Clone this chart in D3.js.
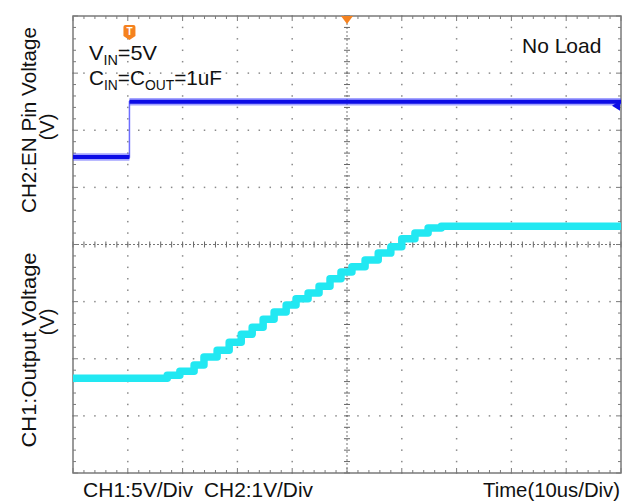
<!DOCTYPE html>
<html>
<head>
<meta charset="utf-8">
<script src="https://cdn.jsdelivr.net/npm/d3@7/dist/d3.min.js"></script>
<style>
  body { margin: 0; background: #fff; }
  text { font-family: "Liberation Sans", Arial, sans-serif; fill: #111; }
</style>
</head>
<body>
<div id="scope"></div>
<script>
// scope screenshot - EN step + soft start of output

// time axis in us (10us/Div), level axis in screen divisions (-4..4)
var ch2Time  = [0, 10.3, 10.3, 100];
var ch2Level = [1.53, 1.53, 2.50, 2.50];

var ch1Time  = [0, 17.2, 19.5, 22.1, 23.9, 26.3, 28.5, 30.7, 32.7, 34.7, 36.7, 38.9, 40.7,
                42.9, 44.9, 46.9, 48.9, 50.9, 53.3, 55.7, 58.0, 60.0, 62.4, 64.8, 67.2, 100];
var ch1Level = [-2.34, -2.29, -2.22, -2.11, -1.97, -1.85, -1.71, -1.57, -1.45, -1.31, -1.18, -1.06, -0.95,
                -0.85, -0.73, -0.60, -0.48, -0.39, -0.27, -0.15, -0.04, 0.10, 0.20, 0.29, 0.32, 0.32];

var triggerTime = 10.3;

var yLabels = ['CH2:EN Pin Voltage', 'CH1:Output Voltage'];
var bottomLabels = ['CH1:5V/Div', 'CH2:1V/Div', 'Time(10us/Div)'];

var width = 629, height = 504;

var svg = d3.select('#scope')
.append('svg')
.attr('width', width)
.attr('height', height)
.style('background-color', '#fff');

var x = d3.scaleLinear().domain([0, 100]).range([73, 621]);
var y = d3.scaleLinear().domain([-4, 4]).range([473, 16]);

var minorT = d3.range(0, 100.01, 2);
var minorV = d3.range(-4, 4.01, 0.2);

// grid dots
var grid = svg.append('g').attr('class', 'grid');

d3.range(10, 100, 10).filter(function(d){ return d !== 50; }).forEach(function(t){
    grid.selectAll(null)
    .data(minorV)
    .enter()
    .append('rect')
    .attr('x', x(t) - 0.75)
    .attr('y', function(d){ return y(d) - 0.75; })
    .attr('width', 1.5)
    .attr('height', 1.5)
    .attr('fill', '#8a8a8a');
});

d3.range(-3, 4, 1).filter(function(d){ return d !== 0; }).forEach(function(v){
    grid.selectAll(null)
    .data(minorT)
    .enter()
    .append('rect')
    .attr('x', function(d){ return x(d) - 0.75; })
    .attr('y', y(v) - 0.75)
    .attr('width', 1.5)
    .attr('height', 1.5)
    .attr('fill', '#8a8a8a');
});

// center cross with ticks
grid.append('line')
.attr('x1', x(0)).attr('x2', x(100))
.attr('y1', y(0)).attr('y2', y(0))
.attr('stroke', '#777')
.attr('stroke-width', 1)
.attr('stroke-dasharray', '2,2');

grid.append('line')
.attr('x1', x(50)).attr('x2', x(50))
.attr('y1', y(-4)).attr('y2', y(4))
.attr('stroke', '#777')
.attr('stroke-width', 1)
.attr('stroke-dasharray', '2,2');

grid.selectAll('line.ct')
.data(minorT)
.enter()
.append('line')
.attr('class', 'ct')
.attr('x1', function(d){ return x(d); })
.attr('x2', function(d){ return x(d); })
.attr('y1', y(0) - 3)
.attr('y2', y(0) + 3)
.attr('stroke', '#666');

grid.selectAll('line.cv')
.data(minorV)
.enter()
.append('line')
.attr('class', 'cv')
.attr('x1', x(50) - 3)
.attr('x2', x(50) + 3)
.attr('y1', function(d){ return y(d); })
.attr('y2', function(d){ return y(d); })
.attr('stroke', '#666');

// border + inner ticks
svg.append('rect')
.attr('x', x(0))
.attr('y', y(4))
.attr('width', x(100) - x(0))
.attr('height', y(-4) - y(4))
.attr('fill', 'none')
.attr('stroke', '#7a7a7a')
.attr('stroke-width', 1.5);

var ticks = svg.append('g').attr('stroke', '#7a7a7a').attr('stroke-width', 1);

minorT.forEach(function(t){
    var len = (t % 10 === 0) ? 5 : 3;
    ticks.append('line').attr('x1', x(t)).attr('x2', x(t)).attr('y1', y(4)).attr('y2', y(4) + len);
    ticks.append('line').attr('x1', x(t)).attr('x2', x(t)).attr('y1', y(-4)).attr('y2', y(-4) - len);
});
minorV.forEach(function(v){
    var len = (Math.abs(Math.round(v) - v) < 0.01) ? 5 : 3;
    ticks.append('line').attr('x1', x(0)).attr('x2', x(0) + len).attr('y1', y(v)).attr('y2', y(v));
    ticks.append('line').attr('x1', x(100)).attr('x2', x(100) - len).attr('y1', y(v)).attr('y2', y(v));
});

// traces
var line = d3.line()
.x(function(d){ return x(d[0]); })
.y(function(d){ return y(d[1]); });

var ch2Data = ch2Time.map(function(t, i){ return [t, ch2Level[i]]; });
var ch1Data = ch1Time.map(function(t, i){ return [t, ch1Level[i]]; });

// blue: thin edge first, then thick flat parts
svg.append('path')
.attr('d', line(ch2Data))
.attr('fill', 'none')
.attr('stroke', '#6d6dff')
.attr('stroke-width', 1.5);

for (var i = 0; i < ch2Data.length - 1; i++) {
    if (ch2Data[i][1] !== ch2Data[i + 1][1]) continue;
    var seg = [ch2Data[i], ch2Data[i + 1]];
    svg.append('path')
    .attr('d', line(seg))
    .attr('fill', 'none')
    .attr('stroke', '#4a4aff')
    .attr('stroke-opacity', 0.5)
    .attr('stroke-width', 7.5);
    svg.append('path')
    .attr('d', line(seg))
    .attr('fill', 'none')
    .attr('stroke', '#0c0ce6')
    .attr('stroke-width', 4);
}

// cyan staircase
svg.append('path')
.attr('d', line.curve(d3.curveStepAfter)(ch1Data))
.attr('fill', 'none')
.attr('stroke', '#22e8f2')
.attr('stroke-width', 7.5)
.attr('stroke-linejoin', 'round');

// markers - trigger badge, top trigger triangle, CH2 level arrow
var tx = x(triggerTime);
svg.append('path')
.attr('d', 'M' + (tx - 6) + ',27 Q' + (tx - 6) + ',25 ' + (tx - 4) + ',25 L' + (tx + 4) + ',25 Q' + (tx + 6) + ',25 ' + (tx + 6) + ',27 L' + (tx + 6) + ',36 L' + tx + ',40 L' + (tx - 6) + ',36 Z')
.attr('fill', '#f5821f');
svg.append('text')
.attr('x', tx)
.attr('y', 35)
.attr('text-anchor', 'middle')
.style('font-size', '10px')
.style('font-weight', 'bold')
.style('fill', '#fff')
.text('T');

svg.append('path')
.attr('d', 'M' + (x(50) - 6) + ',' + y(4) + ' L' + (x(50) + 6) + ',' + y(4) + ' L' + x(50) + ',' + (y(4) + 8) + ' Z')
.attr('fill', '#f5821f');

svg.append('path')
.attr('d', 'M' + (x(100) - 9) + ',' + (y(2.5) + 4) + ' L' + (x(100) - 1) + ',' + (y(2.5) - 1) + ' L' + (x(100) - 1) + ',' + (y(2.5) + 9) + ' Z')
.attr('fill', '#0c0ce6');

// texts
var legend = svg.append('text')
.attr('x', 89)
.attr('y', 60)
.attr('textLength', 68)
.attr('lengthAdjust', 'spacingAndGlyphs')
.style('font-size', '21px');
legend.append('tspan').text('V');
legend.append('tspan').attr('dy', 5).style('font-size', '14px').text('IN');
legend.append('tspan').attr('dy', -5).text('=5V');

var legend2 = svg.append('text')
.attr('x', 89)
.attr('y', 85)
.attr('textLength', 133)
.attr('lengthAdjust', 'spacingAndGlyphs')
.style('font-size', '21px');
legend2.append('tspan').text('C');
legend2.append('tspan').attr('dy', 5).style('font-size', '14px').text('IN');
legend2.append('tspan').attr('dy', -5).text('=C');
legend2.append('tspan').attr('dy', 5).style('font-size', '14px').text('OUT');
legend2.append('tspan').attr('dy', -5).text('=1uF');

svg.append('text')
.attr('x', 522)
.attr('y', 53)
.style('font-size', '21px')
.text('No Load');

svg.append('text')
.attr('x', 83).attr('y', 497)
.style('font-size', '21px')
.attr('textLength', 110)
.attr('lengthAdjust', 'spacingAndGlyphs')
.text(bottomLabels[0]);

svg.append('text')
.attr('x', 204).attr('y', 497)
.style('font-size', '21px')
.attr('textLength', 109)
.attr('lengthAdjust', 'spacingAndGlyphs')
.text(bottomLabels[1]);

svg.append('text')
.attr('x', 483).attr('y', 497)
.style('font-size', '21px')
.attr('textLength', 137)
.attr('lengthAdjust', 'spacingAndGlyphs')
.text(bottomLabels[2]);

// rotated y labels
var yPos = [[120, 127], [350, 322]];
var yLen = [186, 195];
yLabels.forEach(function(lbl, i){
    svg.append('text')
    .attr('transform', 'translate(36,' + yPos[i][0] + ') rotate(-90)')
    .attr('text-anchor', 'middle')
    .attr('textLength', yLen[i])
    .attr('lengthAdjust', 'spacingAndGlyphs')
    .style('font-size', '20px')
    .text(lbl);
    svg.append('text')
    .attr('transform', 'translate(54,' + yPos[i][1] + ') rotate(-90)')
    .attr('text-anchor', 'middle')
    .style('font-size', '20px')
    .text('(V)');
});
</script>
</body>
</html>
